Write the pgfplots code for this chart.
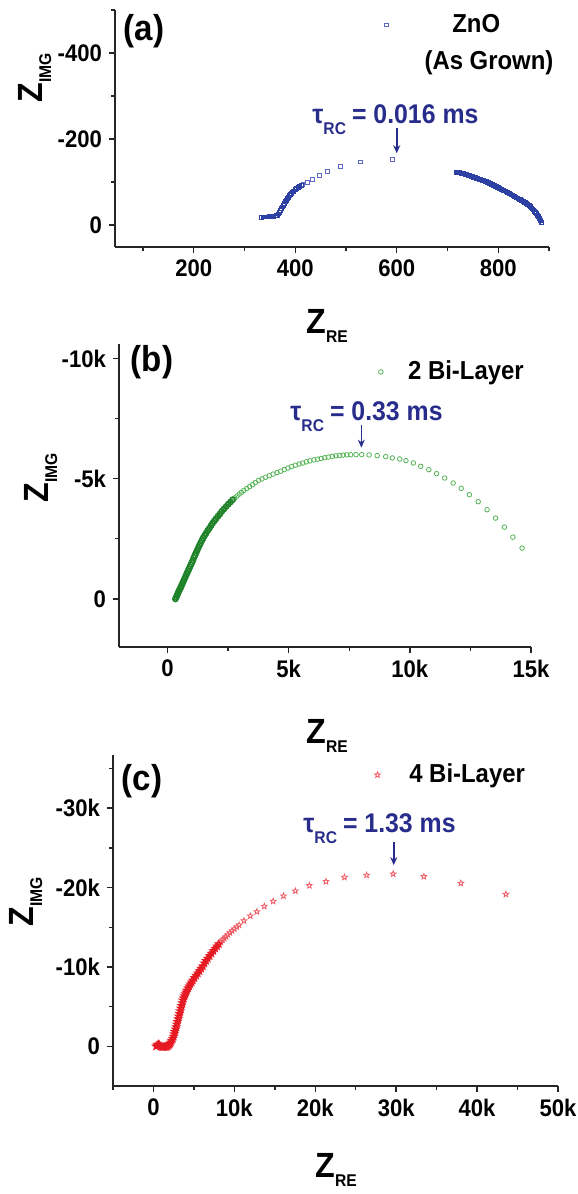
\documentclass[border=0pt]{standalone}
\usepackage{fontspec}
\setmainfont{Liberation Sans}[FakeStretch=0.92]
\usepackage{pgfplots}
\pgfplotsset{compat=1.18}
\usetikzlibrary{plotmarks,arrows.meta}

\definecolor{zblue}{RGB}{45,65,165}
\definecolor{zbluelt}{RGB}{95,105,195}
\definecolor{zgreen}{RGB}{30,130,40}
\definecolor{zgreenlt}{RGB}{85,180,85}
\definecolor{zred}{RGB}{230,25,35}
\definecolor{zredlt}{RGB}{240,90,100}
\definecolor{annot}{RGB}{40,45,140}

% open five-pointed star
\pgfdeclareplotmark{ostar}{%
  \pgfpathmoveto{\pgfpointpolar{90}{\pgfplotmarksize}}%
  \pgfpathlineto{\pgfpointpolar{126}{0.42\pgfplotmarksize}}%
  \pgfpathlineto{\pgfpointpolar{162}{\pgfplotmarksize}}%
  \pgfpathlineto{\pgfpointpolar{198}{0.42\pgfplotmarksize}}%
  \pgfpathlineto{\pgfpointpolar{234}{\pgfplotmarksize}}%
  \pgfpathlineto{\pgfpointpolar{270}{0.42\pgfplotmarksize}}%
  \pgfpathlineto{\pgfpointpolar{306}{\pgfplotmarksize}}%
  \pgfpathlineto{\pgfpointpolar{342}{0.42\pgfplotmarksize}}%
  \pgfpathlineto{\pgfpointpolar{18}{\pgfplotmarksize}}%
  \pgfpathlineto{\pgfpointpolar{54}{0.42\pgfplotmarksize}}%
  \pgfpathclose
  \pgfusepathqstroke
}

% ZnO, dense low-frequency rise
\pgfplotstableread{
x y
334 -18
337 -19
340 -19
343 -19
346 -19
349 -20
352 -20
355 -20
358 -20
361 -21
363 -22
365 -23
367 -26
369 -30
371 -34
373 -38
375 -42
377 -46
379 -50
381 -54
383 -58
385 -62
387 -65
389 -68
391 -71
393 -74
395 -77
397 -79
400 -82
403 -85
406 -88
409 -90
412 -92
}\dataAa
% ZnO, sparse middle points
\pgfplotstableread{
x y
415 -94
424 -99
434 -107
447 -115
464 -125
489 -136
529 -147
591 -153
}\dataAb
% ZnO, dense high-frequency branch
\pgfplotstableread{
x y
717 -123
719 -122.5
721 -122
723 -121.5
725 -121
727 -120.5
729 -120
731 -119.3
733 -118.7
735 -118
737 -117.2
739 -116.4
741 -115.6
743 -114.8
745 -114
747 -113.2
749 -112.4
751 -111.6
753 -110.8
755 -110
757 -109
759 -108.2
761 -107.4
763 -106.6
765 -105.8
767 -105
769 -104.2
771 -103.4
773 -102.5
775 -101.6
777 -100.6
779 -99.6
781 -98.6
783 -97.5
785 -96.4
787 -95.3
789 -94.2
791 -93
793 -91.8
795 -90.6
797 -89.4
799 -88.2
801 -86.8
803 -85.5
805 -84.2
807 -83
809 -81.7
811 -80.4
813 -79.1
815 -77.8
817 -76.5
819 -75.2
821 -73.9
823 -72.6
825 -71.3
827 -70
829 -68.7
831 -67.3
833 -66
835 -64.6
837 -63.2
839 -61.8
841 -60.4
843 -59
845 -57.6
847 -56.2
849 -54.7
851 -53.2
853 -51.7
855 -50.4
857 -48.8
859 -47
861 -44.8
863 -42.5
865 -40
867 -37.5
869 -35
871 -32.2
873 -29.2
875 -26.2
877 -23.2
879 -20
880 -18
881 -16
882 -14
883 -11.5
884 -9.5
885 -7
886 -5
}\dataAc

% 2 bi-layer, dense part
\pgfplotstableread{
x y
330 0
360 -70
390 -140
420 -210
450 -280
480 -345
510 -405
540 -465
570 -530
600 -600
635 -680
670 -760
705 -840
740 -920
775 -1000
810 -1080
850 -1165
890 -1250
930 -1340
970 -1430
1010 -1520
1050 -1610
1090 -1720
1130 -1810
1170 -1900
1220 -2010
1270 -2120
1320 -2230
1370 -2330
1420 -2430
1470 -2530
1530 -2630
1590 -2730
1660 -2840
1730 -2940
1800 -3050
1860 -3150
1930 -3240
2000 -3330
2080 -3430
2160 -3530
2240 -3640
2330 -3740
2420 -3840
2510 -3940
2600 -4030
2690 -4125
}\dataBa
% 2 bi-layer, open part
\pgfplotstableread{
x y
2780 -4200
2870 -4280
2960 -4360
3050 -4430
3150 -4510
3270 -4590
3390 -4670
3510 -4750
3630 -4840
3760 -4930
3900 -4990
4050 -5060
4200 -5120
4360 -5190
4520 -5250
4670 -5310
4820 -5380
4970 -5440
5120 -5500
5280 -5560
5430 -5610
5580 -5650
5730 -5700
5880 -5740
6040 -5780
6190 -5810
6340 -5840
6490 -5870
6640 -5900
6800 -5930
6950 -5950
7100 -5965
7250 -5980
7400 -5990
7560 -5995
7780 -6000
8016 -6000
8320 -5986
8654 -5958
9004 -5917
9278 -5861
9582 -5820
9841 -5750
10145 -5653
10449 -5514
10784 -5375
11103 -5209
11438 -5028
11788 -4820
12122 -4597
12457 -4333
12822 -4042
13187 -3708
13537 -3361
13902 -2986
14252 -2570
14632 -2111
}\dataBb

% 4 bi-layer, dense part
\pgfplotstableread{
x y
330 0
450 -150
600 -250
750 -150
900 0
1050 60
1200 80
1350 80
1500 60
1650 20
1800 -60
1950 -200
2060 -340
2150 -520
2250 -720
2390 -970
2480 -1250
2560 -1550
2640 -1850
2720 -2150
2800 -2440
2880 -2780
2960 -3110
3050 -3450
3130 -3780
3220 -4120
3300 -4450
3380 -4790
3460 -5120
3550 -5460
3630 -5800
3730 -6070
3830 -6330
3930 -6580
4030 -6820
4130 -7060
4270 -7330
4420 -7580
4570 -7830
4720 -8080
4870 -8320
5070 -8620
5270 -8920
5480 -9210
5690 -9500
5900 -9800
6100 -10100
6300 -10470
6500 -10780
6710 -11070
6940 -11390
7170 -11700
7400 -12020
7630 -12330
7860 -12610
8080 -12880
}\dataCa
% 4 bi-layer, open part
\pgfplotstableread{
x y
8310 -13140
8540 -13390
8750 -13600
8950 -13810
9200 -14060
9450 -14310
9720 -14550
10000 -14780
10300 -15030
10590 -15280
11187 -15830
11963 -16419
12785 -16966
13698 -17640
14794 -18271
16072 -18945
17534 -19577
19269 -20250
21323 -20755
23606 -21303
26346 -21555
29633 -21724
33423 -21387
37990 -20545
43560 -19156
}\dataCb

\pgfplotsset{
  nyq/.style={
    scale only axis,
    anchor=south west,
    axis x line*=bottom,
    axis y line*=left,
    axis line style={-, line width=0.7pt, black!85},
    y dir=reverse,
    scaled ticks=false,
    tick align=outside,
    major tick length=3pt,
    minor tick length=1.8pt,
    every tick/.style={line width=0.7pt, black!85},
    ticklabel style={font=\bfseries\fontsize{12}{12}\selectfont},
    clip=false,
    legend style={draw=none, fill=none, inner sep=0pt, anchor=west,
      nodes={inner sep=0pt, font=\bfseries\fontsize{13}{13}\selectfont}},
    legend image code/.code={\draw[#1] plot coordinates {(0pt,0pt)};},
  },
}

\newcommand{\zre}{{\fontsize{17.5}{17.5}\selectfont Z\raisebox{-4.5pt}{\fontsize{8.5}{8.5}\selectfont RE}}}
\newcommand{\zimg}{{\fontsize{17.5}{17.5}\selectfont Z\raisebox{-4.5pt}{\fontsize{8.5}{8.5}\selectfont IMG}}}
\newcommand{\tauRC}[1]{{\fontsize{13.5}{13.5}\selectfont τ\raisebox{-5.5pt}{\fontsize{8.5}{8.5}\selectfont RC}\hspace{3pt}= #1 ms}}

\begin{document}
\begin{tikzpicture}[every node/.append style={font=\bfseries}]
\path[use as bounding box] (0,0) rectangle (289pt,-597pt);

% (a) ZnO as grown
\begin{axis}[nyq,
  at={(57.5pt,-123.5pt)}, width=217pt, height=118.5pt,
  xmin=45, xmax=900, ymin=-500, ymax=51,
  xtick={200,400,600,800}, xticklabels={200,400,600,800},
  minor xtick={100,300,500,700,900},
  ytick={-400,-200,0}, yticklabels={-400,-200,0},
  minor ytick={-500,-300,-100},
  legend style={at={(0.620,0.937)}, column sep=32pt},
]
\addplot[only marks, mark=square, mark size=0.95pt, zbluelt, line width=0.4pt] table {\dataAb};
\addlegendentry{ZnO}
\addplot[only marks, mark=square, mark size=0.95pt, zblue, line width=0.45pt, forget plot] table {\dataAa};
\addplot[only marks, mark=square, mark size=0.95pt, zblue, line width=0.45pt, forget plot] table {\dataAc};
\draw[annot, line width=0.8pt, -{Stealth[length=4pt,width=3.5pt]}] (axis cs:600,-226) -- (axis cs:600,-167);
\end{axis}

% (b) 2 bi-layer
\begin{axis}[nyq,
  at={(59.5pt,-323.5pt)}, width=206pt, height=151.5pt,
  xmin=-2000, xmax=15000, ymin=-10600, ymax=2000,
  xtick={0,5000,10000,15000}, xticklabels={0,5k,10k,15k},
  minor xtick={2500,7500,12500},
  ytick={-10000,-5000,0}, yticklabels={-10k,-5k,0},
  minor ytick={-7500,-2500},
  legend style={at={(0.629,0.908)}, column sep=12.5pt},
]
\addplot[only marks, mark=o, mark size=1.15pt, zgreenlt, line width=0.4pt] table {\dataBb};
\addlegendentry{2 Bi-Layer}
\addplot[only marks, mark=o, mark size=1.3pt, zgreen, line width=0.8pt, forget plot] table {\dataBa};
\draw[annot, line width=0.8pt, -{Stealth[length=4pt,width=3.5pt]}] (axis cs:8000,-7250) -- (axis cs:8000,-6290);
\end{axis}

% (c) 4 bi-layer
\begin{axis}[nyq,
  at={(56.5pt,-543pt)}, width=222.5pt, height=165.5pt,
  xmin=-5000, xmax=50000, ymin=-36700, ymax=5000,
  xtick={0,10000,20000,30000,40000,50000}, xticklabels={0,10k,20k,30k,40k,50k},
  minor xtick={-5000,5000,15000,25000,35000,45000},
  ytick={-30000,-20000,-10000,0}, yticklabels={-30k,-20k,-10k,0},
  minor ytick={-35000,-25000,-15000,-5000},
  legend style={at={(0.587,0.94)}, column sep=14.5pt},
]
\addplot[only marks, mark=ostar, mark size=1.5pt, zredlt, line width=0.4pt] table {\dataCb};
\addlegendentry{4 Bi-Layer}
\addplot[only marks, mark=ostar, mark size=1.6pt, zred, line width=0.7pt, forget plot] table {\dataCa};
\draw[annot, line width=0.8pt, -{Stealth[length=4pt,width=3.5pt]}] (axis cs:29700,-25725) -- (axis cs:29700,-22825);
\end{axis}

% panel letters
\node[font=\bfseries\fontsize{18}{18}\selectfont] at (72pt,-15.5pt) {(a)};
\node[font=\bfseries\fontsize{18}{18}\selectfont] at (76pt,-181pt) {(b)};
\node[font=\bfseries\fontsize{18}{18}\selectfont] at (71pt,-390.5pt) {(c)};

% legend second line for (a)
\node[font=\bfseries\fontsize{13}{13}\selectfont, inner sep=0pt] at (244.5pt,-31.5pt) {(As Grown)};

% time constant labels
\node[annot, anchor=base west, inner sep=0pt] at (156pt,-61.5pt) {\tauRC{0.016}};
\node[annot, anchor=base west, inner sep=0pt] at (145pt,-210pt) {\tauRC{0.33}};
\node[annot, anchor=base west, inner sep=0pt] at (151.5pt,-416pt) {\tauRC{1.33}};

% axis titles
\node[anchor=base west, inner sep=0pt] at (153pt,-166.5pt) {\zre};
\node[anchor=base west, inner sep=0pt] at (153pt,-371.5pt) {\zre};
\node[anchor=base west, inner sep=0pt] at (157.5pt,-588.5pt) {\zre};
\node[anchor=base west, inner sep=0pt, rotate=90] at (21pt,-51.5pt) {\zimg};
\node[anchor=base west, inner sep=0pt, rotate=90] at (24pt,-251.5pt) {\zimg};
\node[anchor=base west, inner sep=0pt, rotate=90] at (16.5pt,-463.5pt) {\zimg};
\end{tikzpicture}
\end{document}
